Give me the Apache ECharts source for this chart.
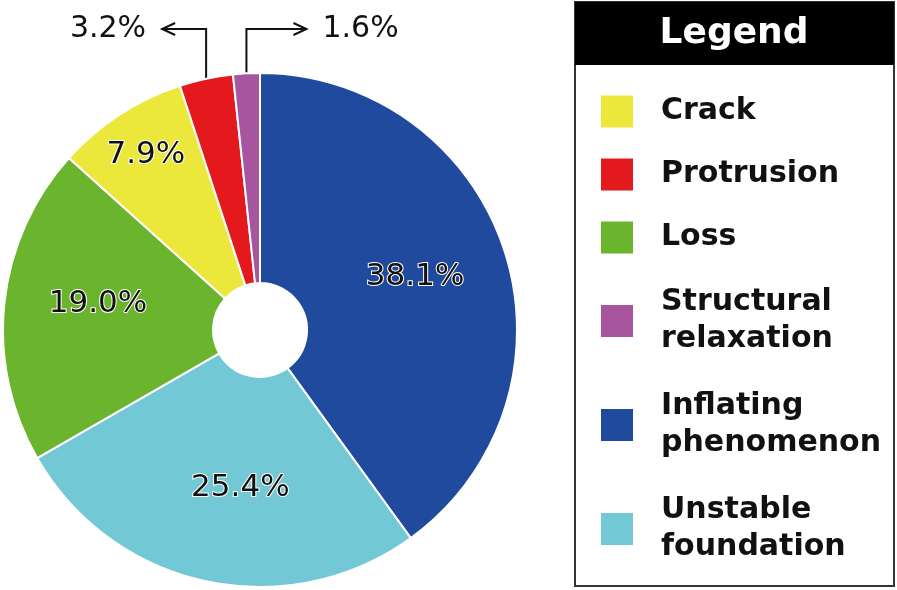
<!DOCTYPE html>
<html>
<head>
<meta charset="utf-8">
</head>
<body style="margin: 0; background: #fff">
<div id="main" style="width: 897px; height: 590px"></div>
<script src="https://cdn.jsdelivr.net/npm/echarts@6/dist/echarts.min.js"></script>
<script>
var names = ['Inflating phenomenon', 'Unstable foundation', 'Loss', 'Crack', 'Protrusion', 'Structural relaxation'];
var values = [38.1, 25.4, 19.0, 7.9, 3.2, 1.6];
var colors = ['#1f4a9e', '#72c8d4', '#6bb42e', '#ebe83b', '#e3191e', '#a8559f'];
var legendOrder = ['Crack', 'Protrusion', 'Loss', 'Structural relaxation', 'Inflating phenomenon', 'Unstable foundation'];

// layout
var cx = 260, cy = 330, r0 = 47, r1 = 257;
var labelR = [164, 159, 164, 209];          // distance of inside labels from centre
var labelTurn = [-1, -5, 3, 0];             // small angle tweak of inside labels (deg)
var calloutY = 29;
var callouts = { 4: { dir: -1, len: 44 }, 5: { dir: 1, len: 60 } };  // small slices: arrow up then sideways

var total = values.reduce(function (a, b) { return a + b; }, 0);
function midAngle(i) {
    var acc = 0;
    for (var k = 0; k < i; k++) acc += values[k];
    return (acc + values[i] / 2) / total * 2 * Math.PI;
}
function polar(a, r) {
    return [cx + r * Math.sin(a), cy - r * Math.cos(a)];
}
function calloutPts(i) {
    var c = callouts[i];
    var p = polar(midAngle(i), r1);
    var tip = [p[0] + c.dir * c.len, calloutY];
    return { start: p, elbow: [p[0], calloutY], tip: tip, dir: c.dir };
}

var graphics = [
    { type: 'rect', shape: { x: 575, y: 2, width: 319, height: 584 }, style: { fill: '#fff', stroke: '#333', lineWidth: 2 }, z: -1 },
    { type: 'rect', shape: { x: 575, y: 2, width: 319, height: 63 }, style: { fill: '#000' } },
    { type: 'text', x: 734, y: 34, style: { text: 'Legend', fill: '#fff', font: 'bold 36px "DejaVu Sans"', align: 'center', verticalAlign: 'middle' } }
];
Object.keys(callouts).forEach(function (k) {
    var c = calloutPts(+k);
    graphics.push({ type: 'polyline', shape: { points: [c.start, c.elbow, c.tip] }, style: { stroke: '#111', lineWidth: 2, fill: null } });
    graphics.push({ type: 'polyline', shape: { points: [[c.tip[0] - c.dir * 13, calloutY - 6], c.tip, [c.tip[0] - c.dir * 13, calloutY + 6]] }, style: { stroke: '#111', lineWidth: 2, fill: null } });
});

var data = names.map(function (n, i) {
    var item = { name: n, value: values[i], itemStyle: { color: colors[i] } };
    if (callouts[i]) {
        item.label = { fontSize: 30, textBorderWidth: 0 };
    }
    return item;
});

var chart = echarts.init(document.getElementById('main'));
chart.setOption({
    animation: false,
    legend: {
        data: legendOrder,
        orient: 'vertical',
        left: 601,
        top: 93,
        padding: 0,
        icon: 'rect',
        itemWidth: 32,
        itemHeight: 32,
        itemGap: 26,
        itemStyle: { borderWidth: 0 },
        formatter: function (n) {
            if (n.indexOf(' ') < 0) return n;
            // two-line names get a little extra room above and below
            return '{s|}\n' + n.replace(' ', '\n') + '\n{s|}';
        },
        textStyle: {
            fontFamily: 'DejaVu Sans',
            fontWeight: 'bold',
            fontSize: 30,
            lineHeight: 37,
            color: '#111',
            padding: [0, 0, 0, 23],
            rich: { s: { fontSize: 2, lineHeight: 2 } }
        }
    },
    graphic: graphics,
    series: [{
        type: 'pie',
        center: [cx, cy],
        radius: [r0, r1],
        startAngle: 90,
        clockwise: true,
        data: data,
        itemStyle: { borderColor: '#fff', borderWidth: 2 },
        label: {
            show: true,
            position: 'inside',
            formatter: function (p) { return p.value.toFixed(1) + '%'; },
            fontFamily: 'DejaVu Sans',
            fontSize: 31,
            color: '#111',
            textBorderColor: '#fff',
            textBorderWidth: 2
        },
        labelLine: { show: false },
        emphasis: { disabled: true },
        labelLayout: function (params) {
            var i = params.dataIndex;
            if (callouts[i]) {
                var c = calloutPts(i);
                return {
                    x: c.tip[0] + c.dir * 16,
                    y: calloutY,
                    align: c.dir < 0 ? 'right' : 'left',
                    verticalAlign: 'middle'
                };
            }
            var p = polar(midAngle(i) + labelTurn[i] * Math.PI / 180, labelR[i]);
            return { x: p[0], y: p[1], align: 'center', verticalAlign: 'middle' };
        }
    }]
});
</script>
</body>
</html>
